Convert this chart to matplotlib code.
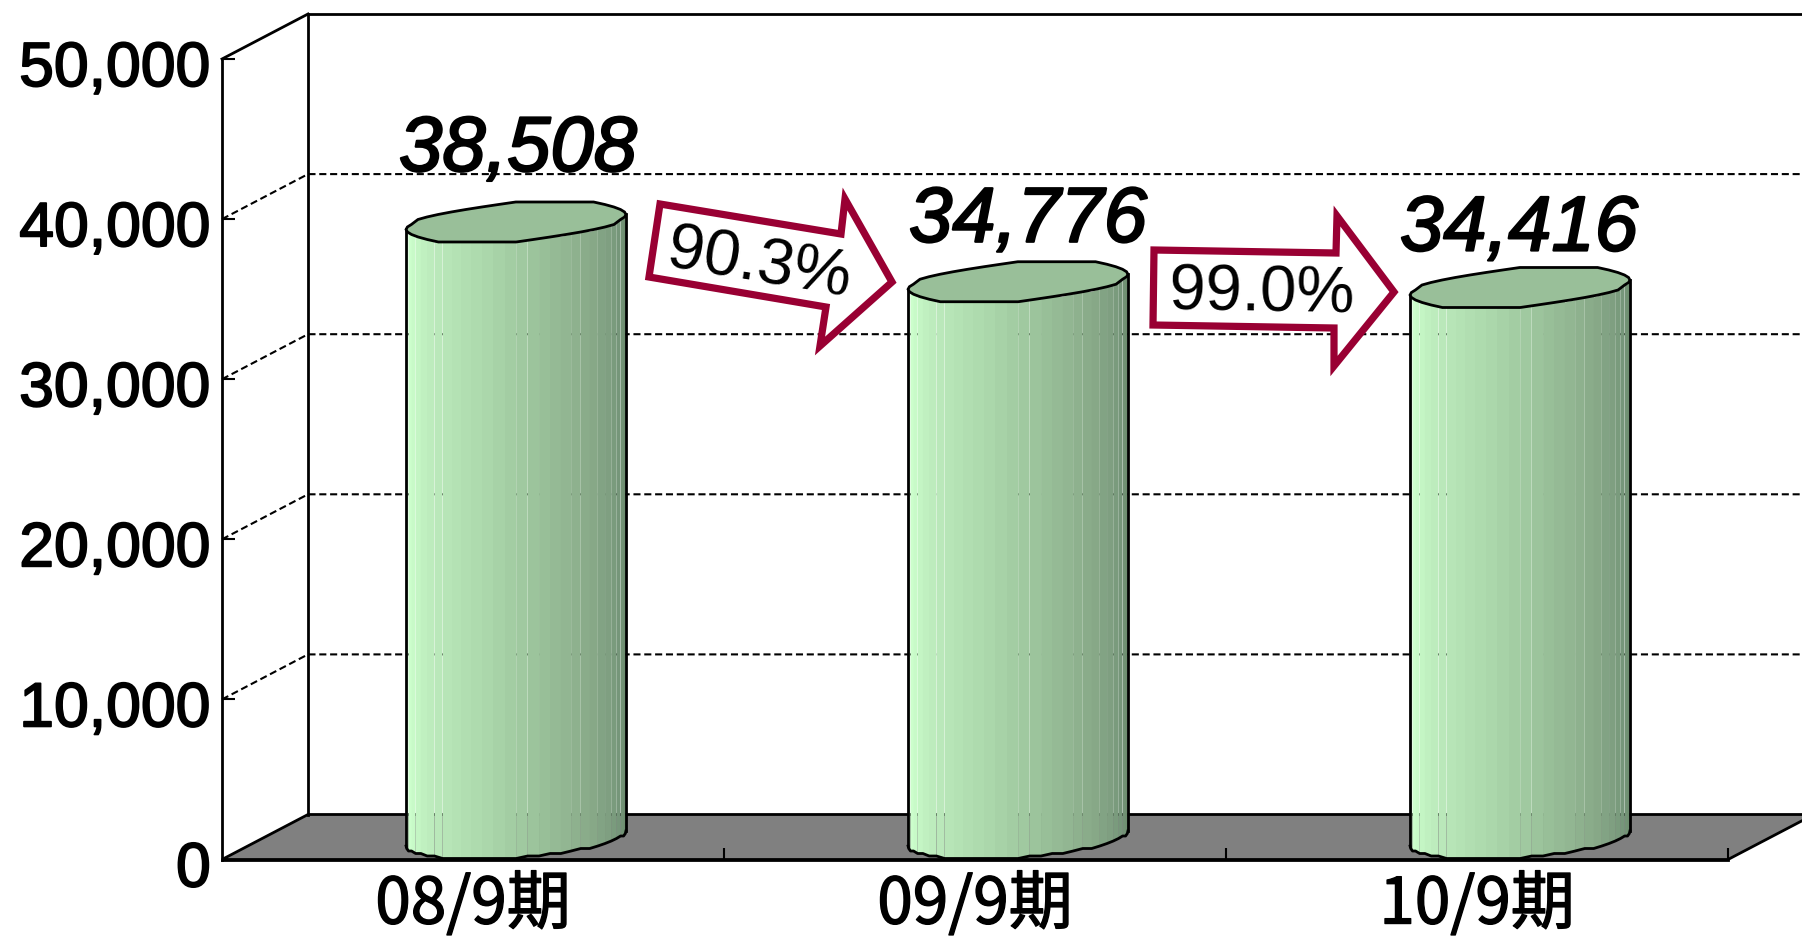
import numpy as np
import matplotlib
matplotlib.use('Agg')
import matplotlib.pyplot as plt
from matplotlib.patches import Polygon
from matplotlib.transforms import Affine2D
from matplotlib.colors import LinearSegmentedColormap
import matplotlib.patheffects as pe

categories = ['08/9期', '09/9期', '10/9期']
values = [38508, 34776, 34416]
ratios = ['90.3%', '99.0%']
yticks = [0, 10000, 20000, 30000, 40000, 50000]

W, H = 1802, 937
fig = plt.figure(figsize=(W / 100, H / 100), dpi=100)

# front plane of the 3D box, in pixels
LEFT, RIGHT, BOTTOM, TOP = 222, 1728, 860.5, 60
ax = fig.add_axes([LEFT / W, 1 - BOTTOM / H, (RIGHT - LEFT) / W, (BOTTOM - TOP) / H])
ax.set_xlim(-0.5, 2.5)
ax.set_ylim(0, 50000)
ax.patch.set_visible(False)

# pixel sizes to data units
px_x = 3 / (RIGHT - LEFT)
px_y = 50000 / (BOTTOM - TOP)
DX, DY = 86 * px_x, 45 * px_y
x0, x1 = -0.5, 2.5

# floor
ax.add_patch(Polygon([(x0, 0), (x0 + DX, DY), (x1 + DX, DY), (x1, 0)], closed=True,
                     fc='#808080', ec='black', lw=2, clip_on=False, zorder=1))

# walls
ax.plot([x0 + DX, x0 + DX], [DY, 50000 + DY], color='black', lw=2, clip_on=False, zorder=1)
ax.plot([x0 + DX, x1 + 1], [50000 + DY, 50000 + DY], color='black', lw=2, clip_on=False, zorder=1)
ax.plot([x0, x0 + DX], [50000, 50000 + DY], color='black', lw=2, clip_on=False, zorder=1)

# dashed grid lines
for v in yticks[1:-1]:
    ax.plot([x0, x0 + DX, x1 + 1], [v, v + DY, v + DY], color='black', lw=1.5,
            dashes=(3.4, 1.8), clip_on=False, zorder=1)

cmap = LinearSegmentedColormap.from_list('cyl', [
    (0.0, '#c4f4c4'), (0.07, '#ccffcc'), (0.2, '#bdecbd'), (0.4, '#acd9ac'),
    (0.6, '#97bd97'), (0.75, '#88a988'), (0.9, '#76967a'), (1.0, '#6a8a6c')])

RX, SKEW, RD = 102, 41, 20.5
T_L, T_R = np.radians(202), np.radians(382)


def ring(t):
    # skewed circle on the floor plane, in pixels from its centre
    return RX * np.cos(t) + SKEW * np.sin(t), np.round(RD * np.sin(t) / 2.5) * 2.5


for i, v in enumerate(values):
    cx = i + DX / 2
    cy = DY / 2 - 1.5 * px_y
    # side of the cylinder
    n = 30
    ts = np.linspace(T_L, T_R, n + 1)
    rx, ry = ring(ts)
    for k in range(n):
        xs = cx + np.array([rx[k], rx[k + 1], rx[k + 1], rx[k]]) * px_x
        ys = np.array([cy + ry[k] * px_y, cy + ry[k + 1] * px_y,
                       cy + v + ry[k + 1] * px_y, cy + v + ry[k] * px_y])
        ax.fill(xs, ys, color=cmap(k / (n - 1)), lw=0, clip_on=False, zorder=2)
    # outline of the side
    ox = cx + rx * px_x
    oy = cy + ry * px_y
    ax.plot(ox, oy, color='black', lw=2, clip_on=False, zorder=3)
    ax.plot([ox[0], ox[0]], [oy[0], cy + v + ry[0] * px_y], color='black', lw=2, clip_on=False, zorder=3)
    ax.plot([ox[-1], ox[-1]], [oy[-1], cy + v + ry[-1] * px_y], color='black', lw=2, clip_on=False, zorder=3)
    # top face
    tt = np.linspace(np.radians(22), np.radians(382), 41)
    qx, qy = ring(tt)
    ax.fill(cx + qx * px_x, cy + v + qy * px_y, fc='#99bf99', ec='black', lw=2,
            clip_on=False, zorder=3)

# value labels
stroke = [pe.withStroke(linewidth=1.6, foreground='black')]
label_x = [2, 10, -1]
label_y = [70, 59, 56]
for i, v in enumerate(values):
    ax.annotate(f'{v:,}', (i + DX / 2, v + DY / 2), xytext=(label_x[i], label_y[i]),
                textcoords='offset pixels', ha='center', va='center',
                fontsize=56, family='Liberation Sans', style='italic',
                clip_on=False, zorder=5, path_effects=stroke)

# axes
for s in ['top', 'right']:
    ax.spines[s].set_visible(False)
for s in ['left', 'bottom']:
    ax.spines[s].set_linewidth(2)
    ax.spines[s].set_zorder(1.5)
ax.set_yticks(yticks)
ax.set_yticklabels([f'{v:,}' for v in yticks], fontsize=45, family='Liberation Sans')
ax.tick_params(axis='y', direction='in', length=9, width=1.5, pad=8)
for lab in ax.get_yticklabels():
    lab.set_path_effects([pe.withStroke(linewidth=1.3, foreground='black')])
    lab.set_transform(lab.get_transform() + Affine2D().translate(0, -4))
ax.set_xticks(range(3))
ax.set_xticklabels(categories, fontsize=46, family=['Noto Sans CJK JP', 'DejaVu Sans'])
for lab in ax.get_xticklabels():
    lab.set_path_effects([pe.withStroke(linewidth=1.0, foreground='black')])
ax.set_xticks([0.5, 1.5, 2.5], minor=True)
ax.tick_params(axis='x', which='major', length=0, pad=9)
ax.tick_params(axis='x', which='minor', direction='in', length=9, width=1.5)

# arrows with the ratios, placed in figure pixels
pix = Affine2D().scale(1 / W, -1 / H).translate(0, 1) + fig.transFigure
arrow1 = [(660, 205), (841, 235), (845, 200), (892, 283), (820, 347), (826, 308), (649, 278)]
arrow2 = [(1154, 251), (1336, 254), (1337, 217), (1394, 293), (1334, 367), (1334, 329), (1153, 326)]
for pts, txt, pos, rot in [(arrow1, ratios[0], (759, 265), -9.5), (arrow2, ratios[1], (1262, 294), -1)]:
    fig.add_artist(Polygon(pts, closed=True, fc='white', ec='#990033', lw=5.2,
                           joinstyle='miter', transform=pix, zorder=6))
    fig.text(pos[0], pos[1], txt, transform=pix, ha='center', va='center', rotation=rot,
             rotation_mode='anchor', fontsize=47, family='Liberation Sans', zorder=7)

fig.savefig('out.png', dpi=100)
